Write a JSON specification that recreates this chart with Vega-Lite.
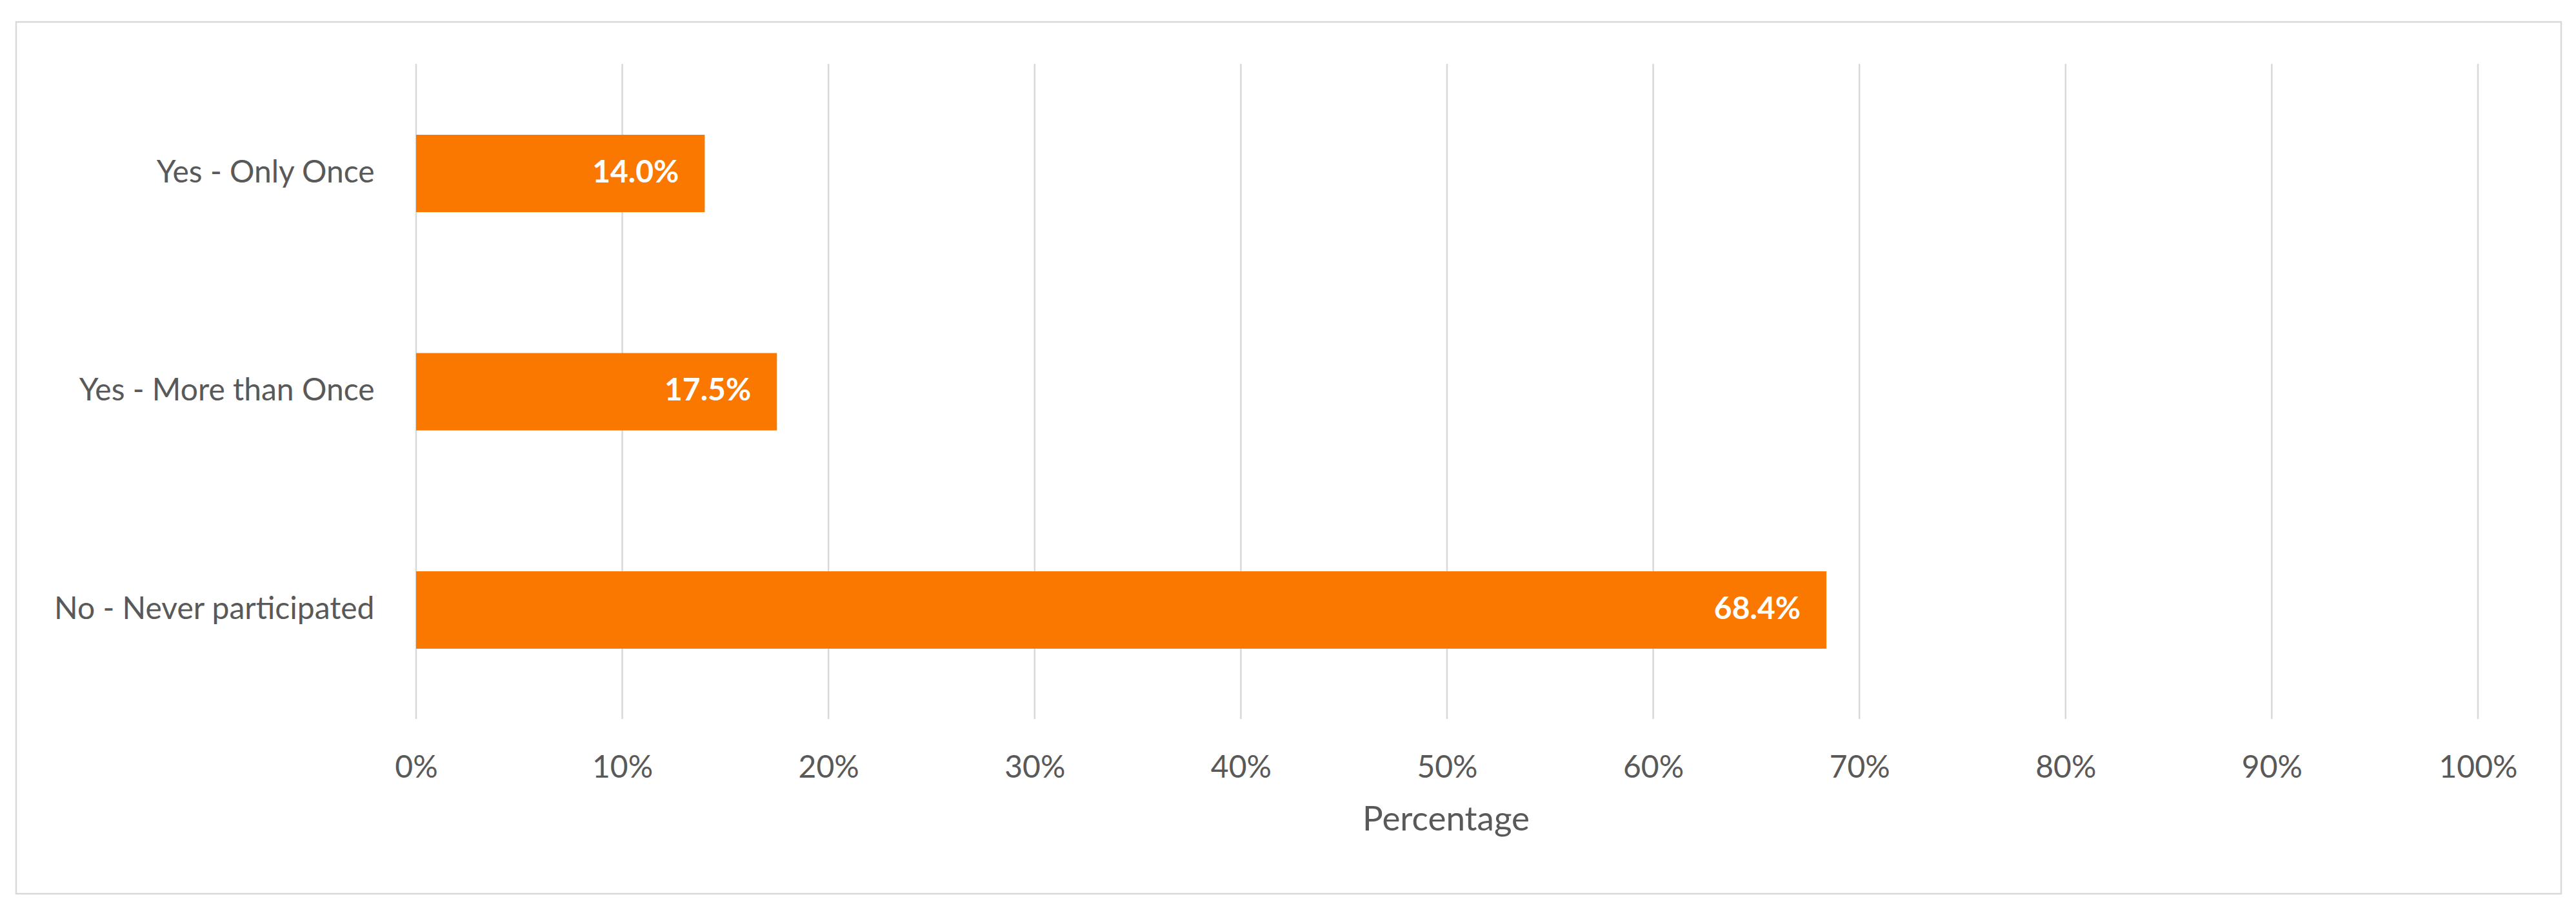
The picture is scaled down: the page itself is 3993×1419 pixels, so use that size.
{
  "$schema": "https://vega.github.io/schema/vega-lite/v6.json",
  "width": 3945,
  "height": 1352,
  "autosize": {"type": "none"},
  "padding": {"left": 25, "top": 34, "right": 23, "bottom": 33},
  "background": "white",
  "config": {
    "view": {"stroke": "#d9d9d9", "strokeWidth": 2.5},
    "font": "Lato"
  },
  "datasets": {
    "bars": [
      {"category": "Yes - Only Once", "pct": 0.14},
      {"category": "Yes - More than Once", "pct": 0.175},
      {"category": "No - Never participated", "pct": 0.684}
    ],
    "grid": [
      {"tick": 0}, {"tick": 0.1}, {"tick": 0.2}, {"tick": 0.3}, {"tick": 0.4}, {"tick": 0.5},
      {"tick": 0.6}, {"tick": 0.7}, {"tick": 0.8}, {"tick": 0.9}, {"tick": 1.0}
    ]
  },
  "resolve": {"scale": {"x": "independent", "y": "independent"}, "axis": {"x": "independent", "y": "independent"}},
  "layer": [
    {
      "data": {"name": "grid"},
      "mark": {"type": "rule", "color": "#d9d9d9", "strokeWidth": 2.5},
      "encoding": {
        "x": {"field": "tick", "type": "quantitative", "scale": {"domain": [-0.19399, 1.04036], "nice": false, "zero": false}, "axis": null},
        "y": {"datum": 0, "type": "quantitative", "scale": {"domain": [-0.26673, 1.06398], "nice": false, "zero": false}, "axis": null},
        "y2": {"datum": 1}
      }
    },
    {
      "data": {"name": "bars"},
      "encoding": {
        "x": {
          "field": "pct", "type": "quantitative",
          "scale": {"domain": [-0.19399, 1.04036], "nice": false, "zero": false},
          "axis": {
            "title": "Percentage",
            "values": [0, 0.1, 0.2, 0.3, 0.4, 0.5, 0.6, 0.7, 0.8, 0.9, 1.0],
            "format": ".0%",
            "grid": false, "domain": false, "ticks": false,
            "labelFlush": false,
            "offset": -219,
            "labelPadding": 0,
            "labelFont": "Lato", "labelFontSize": 48, "labelColor": "#595959",
            "titleFont": "Lato", "titleFontSize": 53, "titleColor": "#595959", "titleFontWeight": "normal",
            "titlePadding": 30,
            "titleX": 2216
          }
        },
        "y": {
          "field": "category", "type": "nominal", "sort": null,
          "scale": {"paddingInner": 0.6455, "paddingOuter": 0.8198, "align": 0.3153},
          "axis": {
            "title": null,
            "grid": false, "domain": false, "ticks": false,
            "offset": -555,
            "labelPadding": 0,
            "labelFont": "Lato", "labelFontSize": 48, "labelColor": "#595959",
            "labelLimit": 1000
          }
        }
      },
      "layer": [
        {
          "mark": {"type": "bar", "color": "#FB7800"},
          "encoding": {"x2": {"datum": 0}}
        },
        {
          "mark": {"type": "text", "align": "right", "baseline": "middle", "dx": -40, "color": "white", "font": "Lato", "fontSize": 48, "fontWeight": "bold"},
          "encoding": {
            "text": {"field": "pct", "type": "quantitative", "format": ".1%"}
          }
        }
      ]
    }
  ]
}
